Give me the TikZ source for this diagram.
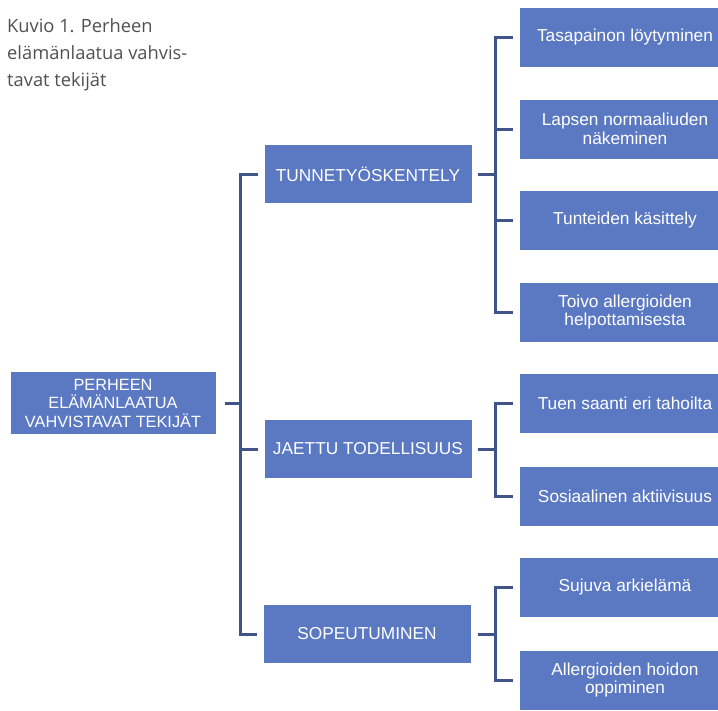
\documentclass[tikz,border=0pt]{standalone}
\usepackage{fontspec}
\setmainfont{Liberation Sans}
\newfontfamily\titlefont{Open Sans}
\definecolor{boxblue}{HTML}{5B79C2}
\definecolor{linecol}{HTML}{3F5589}
\definecolor{titlegray}{HTML}{505050}
\tikzset{
  box/.style={fill=boxblue, text=white, align=center, inner sep=0pt},
  rootbox/.style={box, minimum width=205pt, minimum height=62pt, font=\fontsize{16.3}{18.5}\selectfont},
  midbox/.style={box, minimum width=207pt, minimum height=58pt, font=\fontsize{17.3}{19}\selectfont},
  leafbox/.style={box, minimum width=210pt, minimum height=59pt, font=\fontsize{17.3}{18.5}\selectfont},
  conn/.style={draw=linecol, line width=3pt},
}
\begin{document}
\begin{tikzpicture}[x=1pt, y=-1pt]
\clip (0,0) rectangle (718,710);
\node[anchor=north west, align=left, text=titlegray, font=\titlefont\fontsize{18.3}{27}\selectfont, inner sep=0pt] (title) at (7,18) {Kuvio 1. Perheen\\ elämänlaatua vahvis-\\ tavat tekijät};

\node[rootbox] (root) at (113,403) {PERHEEN\\ ELÄMÄNLAATUA\\ VAHVISTAVAT TEKIJÄT};

\node[midbox] (tun) at (368,174) {TUNNETYÖSKENTELY};
\node[midbox] (jae) at (368,449) {JAETTU TODELLISUUS};
\node[midbox] (sop) at (367,634) {SOPEUTUMINEN};

\node[leafbox] (a1) at (625,37) {Tasapainon löytyminen};
\node[leafbox] (a2) at (625,129) {Lapsen normaaliuden\\ näkeminen};
\node[leafbox] (a3) at (625,220) {Tunteiden käsittely};
\node[leafbox] (a4) at (625,312) {Toivo allergioiden\\ helpottamisesta};
\node[leafbox] (b1) at (625,403) {Tuen saanti eri tahoilta};
\node[leafbox] (b2) at (625,496) {Sosiaalinen aktiivisuus};
\node[leafbox] (c1) at (625,587) {Sujuva arkielämä};
\node[leafbox] (c2) at (625,680) {Allergioiden hoidon\\ oppiminen};

\coordinate (sp) at (240,403);
\coordinate (ss) at (495,0);

% main spine
\draw[conn] ([xshift=9pt]root.east) -- (sp);
\draw[conn] ([xshift=-6pt]tun.west) -- (tun.west -| sp) -- (sop.west -| sp) -- ([xshift=-6pt]sop.west);
\draw[conn] ([xshift=-6pt]jae.west) -- (jae.west -| sp);

% sub spines
\draw[conn] ([xshift=6pt]tun.east) -- (tun.east -| ss);
\draw[conn] ([xshift=-7pt]a1.west) -- (a1.west -| ss) -- (a4.west -| ss) -- ([xshift=-7pt]a4.west);
\draw[conn] ([xshift=-7pt]a2.west) -- (a2.west -| ss);
\draw[conn] ([xshift=-7pt]a3.west) -- (a3.west -| ss);

\draw[conn] ([xshift=6pt]jae.east) -- (jae.east -| ss);
\draw[conn] ([xshift=-7pt]b1.west) -- (b1.west -| ss) -- (b2.west -| ss) -- ([xshift=-7pt]b2.west);

\draw[conn] ([xshift=7pt]sop.east) -- (sop.east -| ss);
\draw[conn] ([xshift=-7pt]c1.west) -- (c1.west -| ss) -- (c2.west -| ss) -- ([xshift=-7pt]c2.west);
\end{tikzpicture}
\end{document}
